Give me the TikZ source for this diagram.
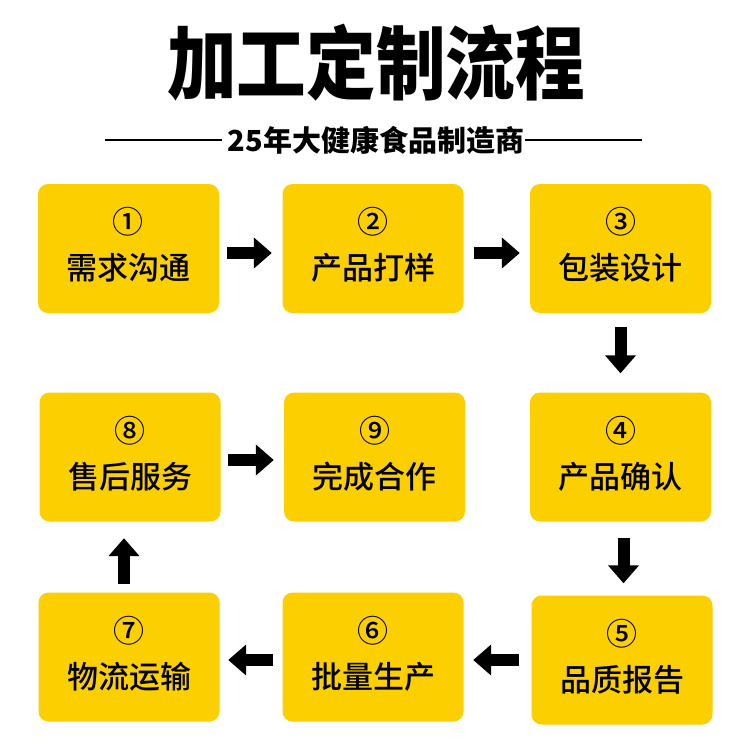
\documentclass[tikz,border=0pt]{standalone}
\usepackage{fontspec}
\setmainfont{Noto Sans CJK SC}
\newfontfamily\titlefont{Noto Sans CJK SC Black}
\newfontfamily\boxfont{Noto Sans CJK SC Medium}
\usetikzlibrary{arrows.meta}
\definecolor{amarillo}{RGB}{252,208,0}

\begin{document}
\begin{tikzpicture}[x=1pt, y=-1pt,
    paso/.style={fill=amarillo, rounded corners=10pt, minimum width=181pt, minimum height=129pt,
      inner sep=0pt, align=center, text depth=10pt, font=\boxfont\fontsize{31}{46}\selectfont},
    flecha/.style={line width=12pt, -{Triangle[length=18pt, width=30pt]}}]
  \useasboundingbox (0,0) rectangle (750,750);
  % Titulo
  \node (titulo) at (376,62.5) {\scalebox{0.87}[1]{\titlefont\fontsize{80}{80}\selectfont 加工定制流程}};
  \node (sub) at (376,140) {\bfseries\fontsize{29}{29}\selectfont 25年大健康食品制造商};
  \coordinate (izqA) at (105,140);
  \coordinate (izqB) at (222,140);
  \coordinate (derA) at (525,140);
  \coordinate (derB) at (642,140);
  \draw[line width=2pt] (izqA) -- (izqB);
  \draw[line width=2pt] (derA) -- (derB);

  % Cajas
  \node[paso] (p1) at (128.5,248.5) {①\\需求沟通};
  \node[paso] (p2) at (373,248.5) {②\\产品打样};
  \node[paso] (p3) at (620.5,248.5) {③\\包装设计};
  \node[paso] (p4) at (620.5,457) {④\\产品确认};
  \node[paso] (p5) at (622,660) {⑤\\品质报告};
  \node[paso] (p6) at (373,657) {⑥\\批量生产};
  \node[paso] (p7) at (129,657) {⑦\\物流运输};
  \node[paso] (p8) at (130,457) {⑧\\售后服务};
  \node[paso] (p9) at (374.5,457) {⑨\\完成合作};

  % Flechas
  \draw[flecha, shorten <=8pt, shorten >=10.5pt] ([yshift=-4.5pt]p1.east) -- ([yshift=-4.5pt]p2.west);
  \draw[flecha, shorten <=10pt, shorten >=10pt] ([yshift=-4.5pt]p2.east) -- ([yshift=-4.5pt]p3.west);
  \draw[flecha, shorten <=14pt, shorten >=19pt] (p3.south) -- (p4.north);
  \draw[flecha, shorten <=16.5pt, shorten >=12pt] ([xshift=3pt]p4.south) -- ([xshift=1.5pt]p5.north);
  \draw[flecha, shorten <=12pt, shorten >=9.5pt] (p5.west) -- ([yshift=-3pt]p6.east);
  \draw[flecha, shorten <=9.5pt, shorten >=8.5pt] ([yshift=-3pt]p6.west) -- ([yshift=-3pt]p7.east);
  \draw[flecha, shorten <=8.5pt, shorten >=16.5pt] ([xshift=-5pt]p7.north) -- ([xshift=-6pt]p8.south);
  \draw[flecha, shorten <=7.5pt, shorten >=10pt] ([yshift=-3pt]p8.east) -- ([yshift=-3pt]p9.west);
\end{tikzpicture}
\end{document}
